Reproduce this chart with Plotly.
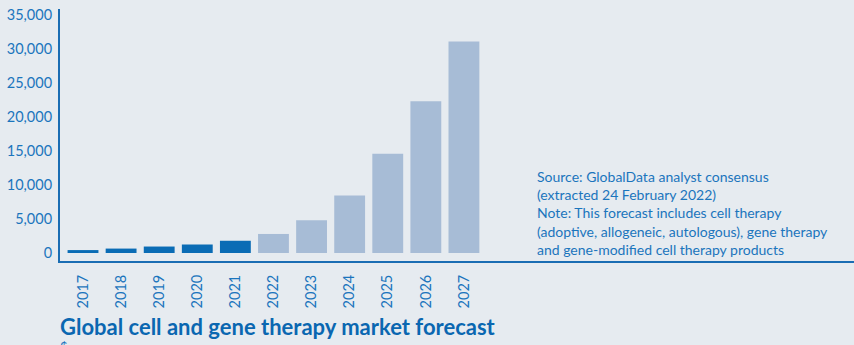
import plotly.graph_objects as go

# Market size by year ($m); 2017-2021 actuals, 2022-2027 forecast
years = ["2017", "2018", "2019", "2020", "2021", "2022",
         "2023", "2024", "2025", "2026", "2027"]
values = [430, 650, 950, 1250, 1800, 2800, 4800, 8450, 14600, 22300, 31100]
is_forecast = [False] * 5 + [True] * 6

y_tick_vals = [0, 5000, 10000, 15000, 20000, 25000, 30000, 35000]
y_tick_text = ["0", "5,000", "10,000", "15,000", "20,000", "25,000", "30,000", "35,000"]

ACTUAL = "#0a6cb5"
FORECAST = "#a7bcd6"
BG = "#e6ebf0"
TEXT = "#1b75bd"
AXIS = "#1a6db3"
FONT = "Lato"

W, H = 854, 345
ML, MR, MT, MB = 60, 0, 9, 84
PW, PH = W - ML - MR, H - MT - MB


def px_x(px):
    return (px - ML) / PW


def px_y(py):
    return (H - MB - py) / PH


fig = go.Figure(
    go.Bar(
        x=years,
        y=values,
        marker=dict(color=[FORECAST if f else ACTUAL for f in is_forecast], line=dict(width=0)),
        hoverinfo="x+y",
    )
)

fig.update_layout(
    width=W,
    height=H,
    margin=dict(l=ML, r=MR, t=MT, b=MB),
    paper_bgcolor=BG,
    plot_bgcolor=BG,
    bargap=0.19,
    showlegend=False,
    font=dict(family=FONT, color=TEXT, size=13),
)

fig.update_xaxes(
    type="category",
    range=[-0.604, 20.24],
    tickangle=-90,
    tickfont=dict(family=FONT, size=14.5, color=TEXT),
    showgrid=False,
    zeroline=False,
    showline=True,
    linecolor=AXIS,
    linewidth=2,
    ticks="",
    ticklabelstandoff=6,
)
fig.update_yaxes(
    range=[-1176, 35882],
    tickvals=y_tick_vals,
    ticktext=y_tick_text,
    tickfont=dict(family=FONT, size=14.5, color=TEXT),
    showgrid=False,
    zeroline=False,
    showline=True,
    linecolor=AXIS,
    linewidth=2,
    ticks="",
    ticklabelstandoff=3,
)

note = ("Source: GlobalData analyst consensus<br>"
        "(extracted 24 February 2022)<br>"
        "Note: This forecast includes cell therapy<br>"
        "(adoptive, allogeneic, autologous), gene therapy<br>"
        "and gene-modified cell therapy products")

fig.add_annotation(
    text=note, xref="paper", yref="paper",
    x=px_x(535), y=px_y(166), xanchor="left", yanchor="top",
    align="left", showarrow=False,
    font=dict(family=FONT, size=14, color=TEXT),
)
fig.add_annotation(
    text="<b>Global cell and gene therapy market forecast</b>",
    xref="paper", yref="paper",
    x=px_x(58), y=px_y(311), xanchor="left", yanchor="top",
    showarrow=False,
    font=dict(family=FONT, size=22, color="#0a67b1"),
)
fig.add_annotation(
    text="$m",
    xref="paper", yref="paper",
    x=px_x(58), y=px_y(337), xanchor="left", yanchor="top",
    showarrow=False,
    font=dict(family=FONT, size=13, color=TEXT),
)

fig.write_html("out.html")
